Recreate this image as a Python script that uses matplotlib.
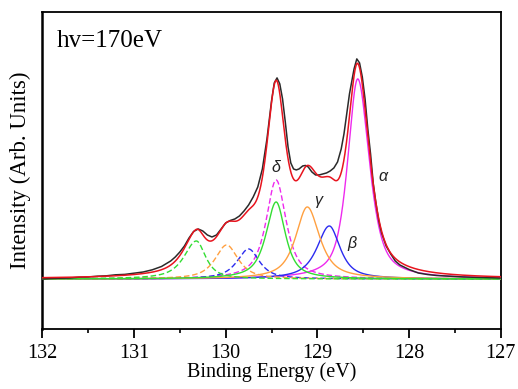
import numpy as np
import matplotlib
matplotlib.use("Agg")
import matplotlib.pyplot as plt

# ---------------- data ----------------
# measured spectrum: binding energy (eV) and intensity (arb. units)
meas_energy = [132.0, 131.9, 131.8, 131.7, 131.6, 131.5, 131.4, 131.3, 131.2, 131.1,
               131.0, 130.9, 130.8, 130.7, 130.6, 130.55, 130.5, 130.45, 130.4, 130.35,
               130.3, 130.25, 130.2, 130.15, 130.1, 130.05, 130.0, 129.95, 129.9, 129.85,
               129.8, 129.75, 129.7, 129.65, 129.6, 129.55, 129.5, 129.47, 129.44, 129.41,
               129.38, 129.35, 129.32, 129.29, 129.26, 129.23, 129.2, 129.16, 129.13, 129.1,
               129.06, 129.02, 128.98, 128.94, 128.9, 128.86, 128.82, 128.78, 128.74, 128.71,
               128.68, 128.65, 128.62, 128.6, 128.57, 128.54, 128.51, 128.48, 128.45, 128.42,
               128.39, 128.36, 128.33, 128.3, 128.25, 128.2, 128.15, 128.1, 128.0, 127.9,
               127.8, 127.7, 127.6, 127.5, 127.4, 127.2, 127.0]
meas_intensity = [0.0, 0.5, 0.8, 1.0, 1.8, 2.0, 2.8, 3.2, 4.2, 4.6,
                  5.8, 7.0, 9.2, 12.5, 18.0, 22.0, 27.0, 33.0, 41.0, 47.5,
                  50.0, 48.0, 44.0, 42.0, 44.0, 50.0, 56.0, 58.5, 60.0, 63.0,
                  68.0, 74.0, 82.0, 92.0, 110.0, 140.0, 178.0, 196.0, 201.0, 195.0,
                  180.0, 157.0, 132.0, 116.0, 110.0, 109.0, 110.0, 113.0, 113.5, 112.0,
                  107.0, 104.0, 104.0, 105.0, 106.0, 108.0, 111.0, 117.0, 130.0, 145.0,
                  165.0, 185.0, 200.0, 210.0, 220.0, 216.0, 202.0, 180.0, 150.0, 125.0,
                  95.0, 75.0, 58.0, 46.0, 33.0, 25.0, 18.0, 14.0, 9.5, 6.0,
                  4.5, 3.5, 3.0, 2.5, 2.0, 1.5, 1.0]

# fitted components: solid lines and their dashed partners
peak_names = ["α", "β", "γ", "δ"]
peak_colors = ["#ee2aee", "#2b2bf0", "#ffa040", "#33dd33"]
solid_centers = [128.56, 128.87, 129.11, 129.45]
solid_heights = [200.0, 53.0, 72.0, 77.0]
solid_width_high = [0.13, 0.16, 0.15, 0.13]
solid_width_low = [0.15, 0.14, 0.16, 0.12]
solid_lorentz = [0.65, 0.8, 0.8, 0.8]
dashed_centers = [129.45, 129.75, 129.99, 130.32]
dashed_heights = [99.0, 30.0, 34.0, 38.0]
dashed_width_high = [0.13, 0.15, 0.15, 0.16]
dashed_width_low = [0.13, 0.14, 0.15, 0.12]
dashed_lorentz = [0.8, 0.8, 0.8, 0.8]

# ---------------- figure ----------------
plt.rcParams["font.family"] = ["Liberation Serif", "DejaVu Serif"]

fig = plt.figure(figsize=(5.18, 3.89), dpi=100)
ax = fig.add_axes([0.0817, 0.1542, 0.885, 0.816])

E = np.linspace(132.0, 127.0, 1501)


def voigt_like(e, c, h, w_hi, w_lo, eta):
    d = e - c
    w = np.where(d >= 0, w_hi, w_lo)
    x = d / w
    return h * ((1 - eta) * np.exp(-np.log(2) * x ** 2) + eta / (1 + x ** 2))


total = np.zeros_like(E)
for i in range(4):
    ys = voigt_like(E, solid_centers[i], solid_heights[i], solid_width_high[i],
                    solid_width_low[i], solid_lorentz[i])
    yd = voigt_like(E, dashed_centers[i], dashed_heights[i], dashed_width_high[i],
                    dashed_width_low[i], dashed_lorentz[i])
    total += ys + yd
    ax.plot(E, ys, color=peak_colors[i], lw=1.0, zorder=3)
    ax.plot(E, yd, color=peak_colors[i], lw=1.0, ls=(0, (4, 2)), zorder=3)

ax.plot(meas_energy, meas_intensity, color="#2a2a2a", lw=1.1, zorder=4)
ax.plot(E, total, color="#e8141e", lw=1.1, zorder=5)

# greek labels
label_pos = {"α": (128.28, 102), "β": (128.62, 35), "γ": (128.99, 78), "δ": (129.45, 111)}
for name in peak_names:
    x, y = label_pos[name]
    ax.text(x, y, name, fontsize=11.5, style="italic", family=["Liberation Sans", "DejaVu Sans"],
            ha="center", va="center", color="#222222", zorder=6)

ax.text(0.032, 0.89, "hv=170eV", transform=ax.transAxes, fontsize=18, va="baseline", ha="left")

ax.set_xlim(132, 127)
ax.set_ylim(-50, 267.3)
ax.set_xticks([132, 131, 130, 129, 128, 127])
ax.set_xticks([131.5, 130.5, 129.5, 128.5, 127.5], minor=True)
ax.set_yticks([])
ax.tick_params(axis="x", which="major", direction="out", length=6.5, width=1.3, labelsize=14.5, pad=4)
ax.tick_params(axis="x", which="minor", direction="out", length=3, width=1.2)
for s in ax.spines.values():
    s.set_linewidth(1.3)
ax.spines["left"].set_linewidth(1.8)

ax.set_xlabel("Binding Energy (eV)", fontsize=14.5, labelpad=0)
ax.set_ylabel("Intensity (Arb. Units)", fontsize=16.5, labelpad=8)

fig.savefig("out.png", dpi=100)
